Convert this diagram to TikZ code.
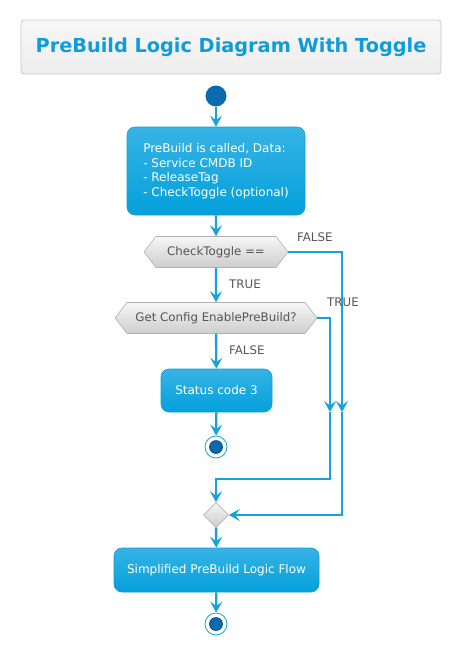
\documentclass[tikz,border=0pt]{standalone}
\usepackage{fontspec}
\setmainfont{DejaVu Sans}
\usetikzlibrary{arrows.meta,shapes.symbols,shapes.geometric}
\definecolor{flowblue}{HTML}{18A2DC}
\definecolor{acttop}{HTML}{36B3E5}
\definecolor{actbot}{HTML}{04A0DB}
\definecolor{actline}{HTML}{1A9CD6}
\definecolor{hextop}{HTML}{F6F6F6}
\definecolor{hexbot}{HTML}{CDCDCD}
\definecolor{hexline}{HTML}{B2B2B2}
\definecolor{greytext}{HTML}{555555}
\definecolor{startblue}{HTML}{0B69AF}
\definecolor{titleblue}{HTML}{0E9CDD}
\begin{document}
\begin{tikzpicture}[x=1pt,y=-1pt,
    flow/.style={draw=flowblue, line width=2.4pt, -{Stealth[length=11pt,width=12pt,inset=4.5pt]}},
    act/.style={rectangle, rounded corners=8pt, draw=actline, line width=0.6pt, top color=acttop, bottom color=actbot, text=white, font=\fontsize{12}{14.6}\selectfont},
    decide/.style={signal, signal to=west and east, signal pointer angle=105, draw=hexline, line width=0.6pt, top color=hextop, bottom color=hexbot, text=greytext, minimum height=31pt, inner sep=0pt, font=\fontsize{11.8}{13}\selectfont},
    guard/.style={text=greytext, anchor=west, inner sep=0pt, font=\fontsize{11.8}{13}\selectfont},
    stopnode/.style={circle, draw=flowblue, line width=0.8pt, fill=white, minimum size=22pt, inner sep=0pt,
        path picture={\fill[startblue, draw=startblue!60!black, line width=0.6pt] (path picture bounding box.center) circle (6.5pt);}}
]
\useasboundingbox (0,0) rectangle (464,646);

% title
\node[rectangle, rounded corners=3pt, draw=black!22, line width=0.8pt, top color=white!97!black, bottom color=white!93!black,
    minimum width=420pt, minimum height=54pt, text=titleblue, font=\fontsize{19.3}{21}\bfseries] (title) at (231,47) {PreBuild Logic Diagram With Toggle};

% activities
\node[circle, fill=startblue, minimum size=21pt, inner sep=0pt] (start) at (216,96) {};
\node[act, minimum width=178pt, minimum height=88pt, align=left] (called) at (216,171)
    {PreBuild is called, Data:\\- Service CMDB ID\\- ReleaseTag\\- CheckToggle (optional)};
\node[decide, minimum width=144pt] (togglechk) at (216,252) {CheckToggle ==};
\node[decide, minimum width=202pt] (cfgchk) at (216,318) {Get Config EnablePreBuild?};
\node[act, minimum width=111pt, minimum height=43pt] (status) at (216.5,390.5) {Status code 3};
\node[stopnode] (stop1) at (216,447) {};
\node[diamond, aspect=1, minimum size=25pt, inner sep=0pt, draw=hexline, line width=0.6pt, top color=hextop, bottom color=hexbot] (merge) at (216,515) {};
\node[act, minimum width=205pt, minimum height=44pt] (simple) at (216.5,570) {Simplified PreBuild Logic Flow};
\node[stopnode] (stop2) at (216,624) {};

\coordinate (falsemid) at (342,412);
\coordinate (truemid) at (330,412);

% connectors
\draw[flow] (start) -- (called);
\draw[flow] (called) -- (togglechk);
\draw[flow] (togglechk) -- (cfgchk);
\draw[flow] (cfgchk) -- (status);
\draw[flow] (status) -- (stop1);
\draw[flow] (togglechk.east) -| (falsemid);
\draw[flow] (falsemid) |- (merge.east);
\draw[flow] (cfgchk.east) -| (truemid);
\draw[flow] (truemid) |- ([yshift=23pt]merge.north) -- (merge.north);
\draw[flow] (merge) -- (simple);
\draw[flow] (simple) -- (stop2);

% guards
\node[guard] (g1) at (297,237) {FALSE};
\node[guard] (g2) at (229,284) {TRUE};
\node[guard] (g3) at (327,302) {TRUE};
\node[guard] (g4) at (229,350) {FALSE};
\end{tikzpicture}
\end{document}
